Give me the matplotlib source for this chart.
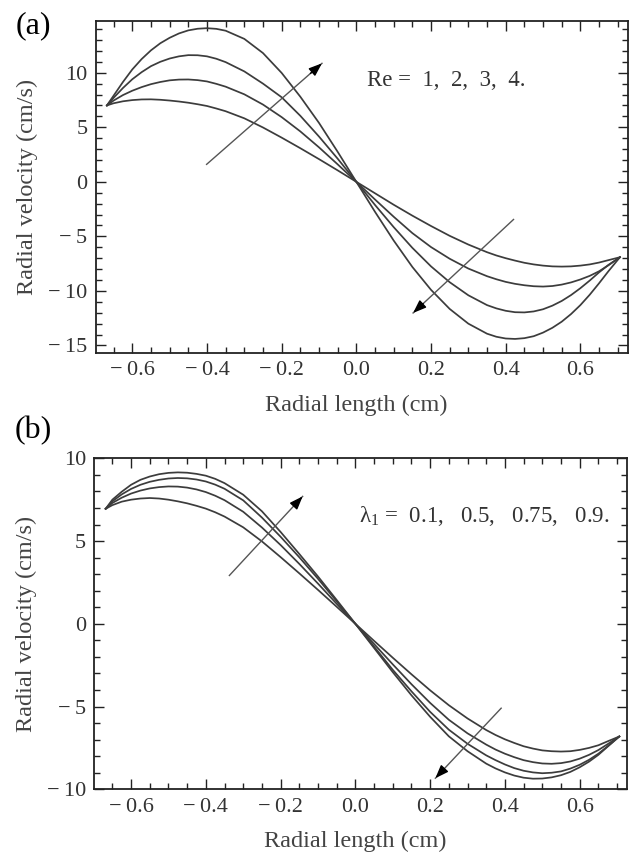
import numpy as np
import matplotlib
matplotlib.use("Agg")
import matplotlib.pyplot as plt
from matplotlib.ticker import MultipleLocator, FuncFormatter

plt.rcParams['font.family'] = ['Liberation Serif', 'DejaVu Serif']
plt.rcParams['mathtext.fontset'] = 'custom'
plt.rcParams['mathtext.rm'] = 'Liberation Serif'
plt.rcParams['mathtext.it'] = 'Liberation Serif:italic'

# radial position (cm), shared by both panels
x_r = [-0.668, -0.65, -0.625, -0.6, -0.575, -0.55, -0.525,
       -0.5, -0.475, -0.45, -0.425, -0.4, -0.375, -0.35,
       -0.3, -0.25, -0.2, -0.15, -0.1, -0.05, 0.0,
       0.05, 0.1, 0.15, 0.2, 0.25, 0.3, 0.35,
       0.375, 0.4, 0.425, 0.45, 0.475, 0.5, 0.525,
       0.55, 0.575, 0.6, 0.625, 0.65, 0.675, 0.706]

# (a) radial velocity for Re = 1, 2, 3, 4
re_1 = [7.0, 7.2, 7.38, 7.49, 7.55, 7.56, 7.52,
        7.45, 7.36, 7.25, 7.11, 6.95, 6.72, 6.47,
        5.82, 4.98, 4.05, 3.08, 2.08, 1.05, 0.0,
        -1.05, -2.1, -3.1, -4.05, -4.95, -5.75, -6.45,
        -6.75, -7.0, -7.22, -7.42, -7.57, -7.68, -7.75,
        -7.77, -7.75, -7.68, -7.57, -7.4, -7.18, -6.91]
re_2 = [7.0, 7.45, 7.95, 8.35, 8.68, 8.95, 9.15,
        9.3, 9.37, 9.38, 9.32, 9.2, 8.98, 8.72,
        8.02, 7.08, 5.93, 4.62, 3.16, 1.6, 0.0,
        -1.62, -3.2, -4.7, -5.98, -7.05, -7.95, -8.65,
        -8.93, -9.17, -9.35, -9.48, -9.57, -9.6, -9.55,
        -9.42, -9.22, -8.95, -8.62, -8.2, -7.65, -6.91]
re_3 = [7.0, 7.7, 8.6, 9.4, 10.05, 10.6, 11.0,
        11.3, 11.5, 11.61, 11.6, 11.5, 11.28, 10.97,
        10.12, 9.0, 7.75, 6.05, 4.15, 2.12, 0.0,
        -2.12, -4.15, -6.05, -7.75, -9.2, -10.4, -11.3,
        -11.6, -11.82, -11.95, -11.97, -11.88, -11.68, -11.35,
        -10.92, -10.38, -9.75, -9.05, -8.3, -7.62, -6.91]
re_4 = [7.0, 7.9, 9.15, 10.3, 11.25, 12.05, 12.7,
        13.2, 13.6, 13.88, 14.03, 14.08, 14.02, 13.85,
        13.1, 11.8, 9.98, 7.8, 5.4, 2.75, 0.0,
        -2.75, -5.38, -7.8, -9.9, -11.65, -13.0, -13.92,
        -14.2, -14.36, -14.4, -14.33, -14.15, -13.82, -13.38,
        -12.82, -12.12, -11.3, -10.35, -9.3, -8.2, -6.91]

# (b) radial velocity for lambda_1 = 0.1, 0.5, 0.75, 0.9
lam_01 = [6.95, 7.17, 7.38, 7.5, 7.57, 7.6, 7.57,
          7.5, 7.4, 7.28, 7.13, 6.96, 6.74, 6.48,
          5.83, 4.98, 4.03, 3.05, 2.05, 1.03, 0.0,
          -1.03, -2.05, -3.05, -4.02, -4.92, -5.72, -6.42,
          -6.72, -6.98, -7.2, -7.4, -7.54, -7.65, -7.7,
          -7.72, -7.7, -7.62, -7.5, -7.34, -7.1, -6.81]
lam_05 = [6.95, 7.3, 7.62, 7.87, 8.05, 8.18, 8.26,
          8.3, 8.29, 8.23, 8.12, 7.96, 7.74, 7.47,
          6.77, 5.82, 4.76, 3.62, 2.43, 1.21, 0.0,
          -1.22, -2.45, -3.65, -4.78, -5.8, -6.62, -7.3,
          -7.6, -7.85, -8.06, -8.24, -8.36, -8.44, -8.46,
          -8.42, -8.32, -8.15, -7.92, -7.63, -7.27, -6.81]
lam_075 = [6.95, 7.4, 7.82, 8.15, 8.4, 8.58, 8.7,
           8.78, 8.81, 8.79, 8.72, 8.6, 8.41, 8.16,
           7.46, 6.42, 5.26, 4.02, 2.72, 1.36, 0.0,
           -1.38, -2.78, -4.08, -5.32, -6.4, -7.25, -7.95,
           -8.24, -8.5, -8.72, -8.88, -8.98, -9.03, -9.0,
           -8.92, -8.75, -8.52, -8.22, -7.85, -7.4, -6.81]
lam_09 = [6.95, 7.5, 7.98, 8.4, 8.7, 8.9, 9.04,
          9.12, 9.15, 9.13, 9.06, 8.95, 8.76, 8.5,
          7.8, 6.8, 5.55, 4.22, 2.86, 1.44, 0.0,
          -1.46, -2.92, -4.32, -5.62, -6.8, -7.7, -8.45,
          -8.74, -8.98, -9.17, -9.3, -9.36, -9.35, -9.28,
          -9.15, -8.95, -8.67, -8.33, -7.92, -7.42, -6.81]

# arrows (start, tip) in data units
arrows_a = [((-0.401, 1.60), (-0.092, 10.86)), ((0.421, -3.45), (0.152, -12.02))]
arrows_b = [((-0.337, 2.92), (-0.141, 7.70)), ((0.39, -5.10), (0.214, -9.33))]

line_col = '#3c3c3c'
txt_col = '#333333'


def minus_fmt(fmt):
    return FuncFormatter(lambda v, p: (fmt % v).replace('-', '\u2212\u2009'))


def style_axes(ax, ylim, ymajor):
    ax.set_xlim(-0.698, 0.727)
    ax.set_ylim(*ylim)
    ax.xaxis.set_major_locator(MultipleLocator(0.2))
    ax.xaxis.set_minor_locator(MultipleLocator(0.05))
    ax.yaxis.set_major_locator(MultipleLocator(ymajor))
    ax.yaxis.set_minor_locator(MultipleLocator(1))
    ax.xaxis.set_major_formatter(minus_fmt('%.1f'))
    ax.yaxis.set_major_formatter(minus_fmt('%d'))
    ax.tick_params(which='both', direction='in', top=True, right=True,
                   labelsize=16, colors='#222222', labelcolor=txt_col, width=1.0)
    ax.tick_params(which='major', length=7, pad=6)
    ax.tick_params(which='minor', length=4)
    for s in ax.spines.values():
        s.set_linewidth(1.3)
        s.set_color('#222222')
    ax.set_xlabel('Radial length (cm)', fontsize=17.5, color='#444444')
    ax.set_ylabel('Radial velocity (cm/s)', fontsize=17.5, color='#444444')
    ax.xaxis.set_label_coords(0.49, -0.125)
    ax.yaxis.set_label_coords(-0.108, 0.5)


def draw_arrows(ax, arrows):
    for (x0, y0), (x1, y1) in arrows:
        ax.plot([x0, x1], [y0, y1], color='#555555', lw=1.0)
        ax.annotate('', xy=(x1, y1), xytext=(x0 + 0.9 * (x1 - x0), y0 + 0.9 * (y1 - y0)),
                    arrowprops=dict(arrowstyle='-|>,head_length=0.8,head_width=0.3',
                                    color='black', lw=1.0, shrinkA=0, shrinkB=0))


fig = plt.figure(figsize=(6.38, 8.61), dpi=100)

ax1 = fig.add_axes([0.150, 0.590, 0.834, 0.386])
for v in [re_1, re_2, re_3, re_4]:
    ax1.plot(x_r, v, color=line_col, lw=1.25)
style_axes(ax1, (-15.69, 14.77), 5)
draw_arrows(ax1, arrows_a)
ax1.text(0.029, 9.33, 'Re =  1,  2,  3,  4.', fontsize=16.5, color=txt_col,
         ha='left', va='center')
fig.text(0.052, 0.970, '(a)', fontsize=23, ha='center', va='center', color='black')

ax2 = fig.add_axes([0.148, 0.0833, 0.835, 0.3844])
for v in [lam_01, lam_05, lam_075, lam_09]:
    ax2.plot(x_r, v, color=line_col, lw=1.25)
style_axes(ax2, (-10, 10), 5)
draw_arrows(ax2, arrows_b)
ax2.text(0.011, 6.49, 'λ$_1$ =  0.1,   0.5,   0.75,   0.9.', fontsize=16.5, color=txt_col,
         ha='left', va='center')
fig.text(0.052, 0.500, '(b)', fontsize=23, ha='center', va='center', color='black')

fig.savefig('out.png', dpi=100)
